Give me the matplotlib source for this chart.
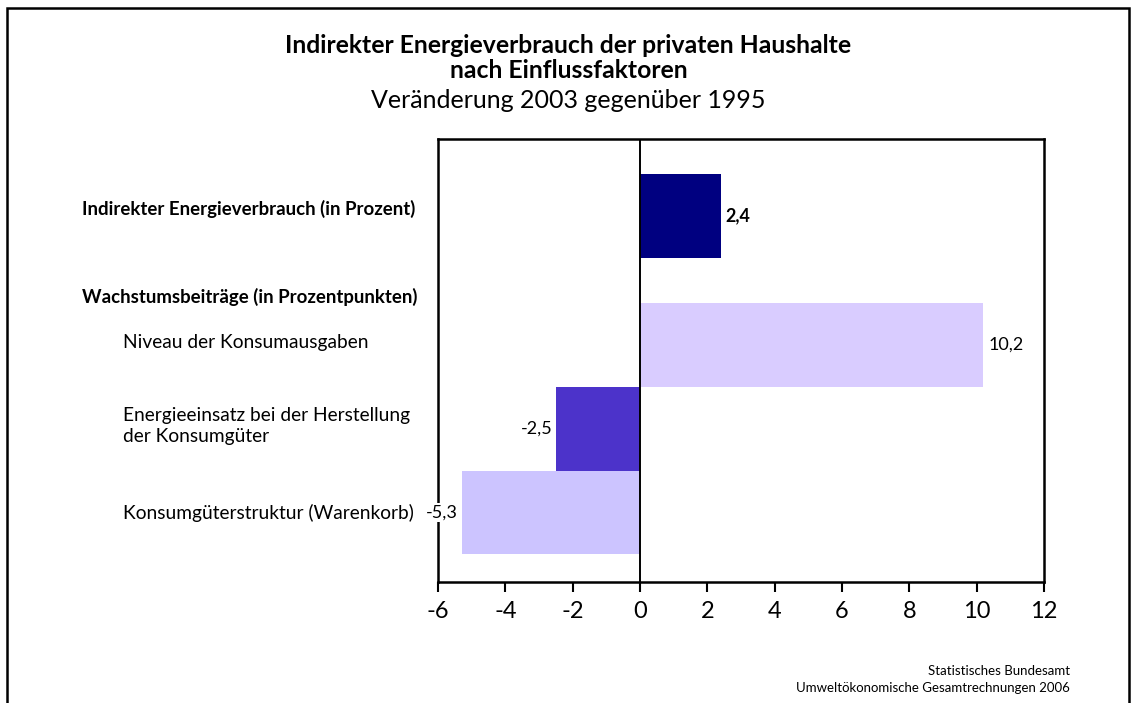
import matplotlib
matplotlib.use("Agg")
import matplotlib.pyplot as plt
from matplotlib.patches import Rectangle
from matplotlib.transforms import blended_transform_factory

plt.rcParams['font.family'] = ['Lato', 'DejaVu Sans']

# data
values = [2.4, 10.2, -2.5, -5.3]
value_labels = ['2,4', '10,2', '-2,5', '-5,3']
bar_pos = [4.37, 2.83, 1.83, 0.83]
bar_colors = ['#000080', '#D9CCFF', '#4C33CA', '#CCC4FF']

cat_labels = ['Indirekter Energieverbrauch (in Prozent)',
              'Wachstumsbeiträge (in Prozentpunkten)',
              'Niveau der Konsumausgaben',
              'Energieeinsatz bei der Herstellung\nder Konsumgüter',
              'Konsumgüterstruktur (Warenkorb)']
cat_pos = [4.46, 3.40, 2.86, 1.86, 0.82]
cat_bold = [True, True, False, False, False]

xticks = [-6, -4, -2, 0, 2, 4, 6, 8, 10, 12]

fig = plt.figure(figsize=(11.37, 7.03), dpi=100)
ax = fig.add_axes([438/1137, 121/703, 606/1137, 443/703])

ax.barh(bar_pos, values, height=1.0, color=bar_colors, zorder=2)
ax.axvline(0, color='black', linewidth=1.4, zorder=3)

ax.set_xlim(-6, 12)
ax.set_ylim(0, 5.29)
ax.set_xticks(xticks)
ax.set_xticklabels([str(t) for t in xticks])
ax.set_yticks([])
ax.tick_params(axis='x', direction='out', length=7, width=1.5, labelsize=17, pad=7)
for s in ax.spines.values():
    s.set_linewidth(1.8)
    s.set_zorder(4)

# value labels
for v, lab, y in zip(values, value_labels, bar_pos):
    if v >= 0:
        ax.text(v + 0.15, y, lab, ha='left', va='center', fontsize=13,
                fontweight='bold' if lab == '2,4' else 'normal',
                bbox=dict(facecolor='white', edgecolor='none', pad=1), zorder=5)
    else:
        ax.text(v - 0.1, y, lab, ha='right', va='center', fontsize=13,
                bbox=dict(facecolor='white', edgecolor='none', pad=1), zorder=5,
                clip_on=False)

# category labels on the left
tr = blended_transform_factory(fig.transFigure, ax.transData)
for lab, y, b in zip(cat_labels, cat_pos, cat_bold):
    x = 82/1137 if b else 123/1137
    fig.text(x, y, lab, transform=tr, ha='left', va='center',
             fontsize=13.4 if b else 13.8,
             fontweight='bold' if b else 'normal', linespacing=1.25)

# titles
fig.text(0.5, 1 - 58/703, 'Indirekter Energieverbrauch der privaten Haushalte\nnach Einflussfaktoren',
         ha='center', va='center', fontsize=17.8, fontweight='bold', linespacing=1.15)
fig.text(0.5, 1 - 101/703, 'Veränderung 2003 gegenüber 1995', ha='center', va='center', fontsize=18)

# source
fig.text(1070/1137, 1 - 671/703, 'Statistisches Bundesamt', ha='right', va='center', fontsize=9.5)
fig.text(1070/1137, 1 - 688/703, 'Umweltökonomische Gesamtrechnungen 2006', ha='right', va='center', fontsize=9.5)

# outer frame
fig.patches.append(Rectangle((7/1137, -0.1), 1122/1137, 1.1 - 8/703, transform=fig.transFigure,
                             fill=False, edgecolor='black', linewidth=1.8))

fig.savefig('out.png', dpi=100)
